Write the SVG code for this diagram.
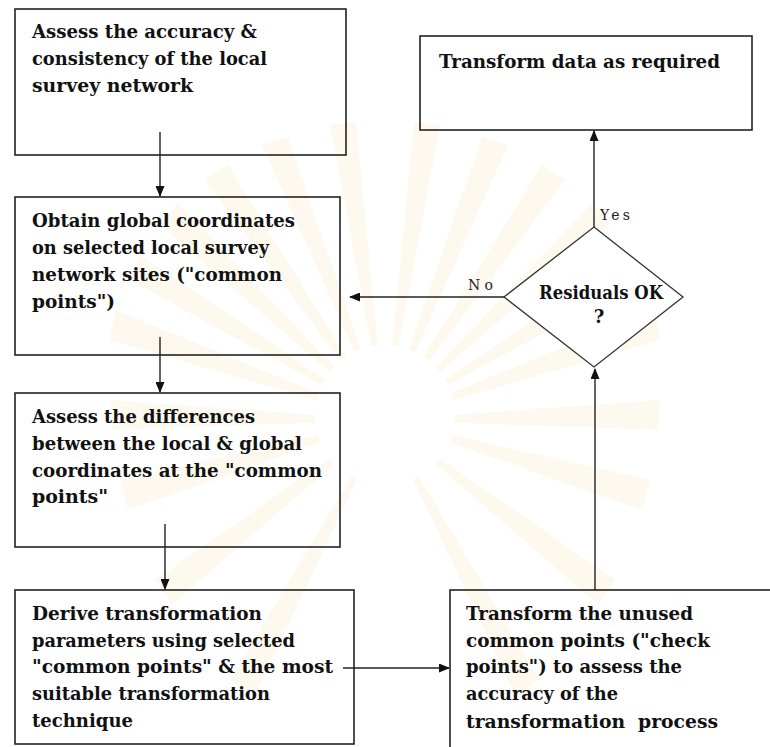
<svg xmlns="http://www.w3.org/2000/svg" width="770" height="747" viewBox="0 0 770 747">
<style>
.box{fill:none;stroke:#222;stroke-width:1.6}
.t{font-family:"DejaVu Serif","Liberation Serif",serif;font-weight:bold;font-size:18px;fill:#111}
.lbl{font-family:"DejaVu Serif","Liberation Serif",serif;font-size:14px;fill:#222}
.c{fill:none;stroke:#222;stroke-width:1.4;marker-end:url(#ah)}
.ray{fill:#f5e4b4;opacity:0.22}
</style>
<defs>
<marker id="ah" markerUnits="userSpaceOnUse" markerWidth="11" markerHeight="9" refX="10" refY="4.5" orient="auto">
<path d="M0,0 L11,4.5 L0,9 z" fill="#111"/>
</marker>
</defs>
<rect width="770" height="747" fill="#fff"/>
<g id="watermark">
<path class="ray" d="M385,420 L110,340 L115,310 Z"/>
<path class="ray" d="M385,420 L130,280 L140,255 Z"/>
<path class="ray" d="M385,420 L160,225 L178,203 Z"/>
<path class="ray" d="M385,420 L205,180 L228,165 Z"/>
<path class="ray" d="M385,420 L262,145 L288,137 Z"/>
<path class="ray" d="M385,420 L330,125 L356,122 Z"/>
<path class="ray" d="M385,420 L414,122 L440,125 Z"/>
<path class="ray" d="M385,420 L482,137 L508,145 Z"/>
<path class="ray" d="M385,420 L542,165 L565,180 Z"/>
<path class="ray" d="M385,420 L592,203 L610,225 Z"/>
<path class="ray" d="M385,420 L630,255 L640,280 Z"/>
<path class="ray" d="M385,420 L655,310 L660,340 Z"/>
<path class="ray" d="M385,420 L660,400 L658,430 Z"/>
<path class="ray" d="M385,420 L650,480 L642,510 Z"/>
<path class="ray" d="M385,420 L615,580 L598,605 Z"/>
<path class="ray" d="M385,420 L110,400 L112,430 Z"/>
<path class="ray" d="M385,420 L120,480 L128,510 Z"/>
<path class="ray" d="M385,420 L155,580 L172,605 Z"/>
<path class="ray" d="M385,420 L230,680 L255,695 Z"/>
<path class="ray" d="M385,420 L515,695 L540,680 Z"/>
<circle cx="385" cy="415" r="70" fill="#fff"/>
</g>
<g id="connectors">
<path class="c" d="M160,132 V196"/>
<path class="c" d="M160,337 V392"/>
<path class="c" d="M165,524 V589"/>
<path class="c" d="M343,668 H449"/>
<path class="c" d="M595,590 V369"/>
<path class="c" d="M594,227 V131"/>
<path class="c" d="M504,297 H350"/>
<text class="lbl" x="600" y="220" textLength="30" lengthAdjust="spacing">Yes</text>
<text class="lbl" x="468" y="290" textLength="25" lengthAdjust="spacing">No</text>
</g>
<g id="n1">
<rect class="box" x="15" y="9" width="331" height="146"/>
<text class="t" x="32" y="38" textLength="225" lengthAdjust="spacingAndGlyphs">Assess the accuracy &amp;</text>
<text class="t" x="32" y="65" textLength="235" lengthAdjust="spacingAndGlyphs">consistency of the local</text>
<text class="t" x="32" y="92" textLength="161" lengthAdjust="spacingAndGlyphs">survey network</text>
</g>
<g id="n2">
<rect class="box" x="15" y="197" width="325" height="158"/>
<text class="t" x="32" y="227" textLength="263" lengthAdjust="spacingAndGlyphs">Obtain global coordinates</text>
<text class="t" x="32" y="254" textLength="237" lengthAdjust="spacingAndGlyphs">on selected local survey</text>
<text class="t" x="32" y="281" textLength="250" lengthAdjust="spacingAndGlyphs">network sites ("common</text>
<text class="t" x="32" y="308" textLength="83" lengthAdjust="spacingAndGlyphs">points")</text>
</g>
<g id="n3">
<rect class="box" x="15" y="393" width="325" height="154"/>
<text class="t" x="32" y="423" textLength="223" lengthAdjust="spacingAndGlyphs">Assess the differences</text>
<text class="t" x="32" y="450" textLength="270" lengthAdjust="spacingAndGlyphs">between the local &amp; global</text>
<text class="t" x="32" y="477" textLength="290" lengthAdjust="spacingAndGlyphs">coordinates at the "common</text>
<text class="t" x="32" y="503" textLength="76" lengthAdjust="spacingAndGlyphs">points"</text>
</g>
<g id="n4">
<rect class="box" x="15" y="590" width="339" height="154"/>
<text class="t" x="32" y="620" textLength="230" lengthAdjust="spacingAndGlyphs">Derive transformation</text>
<text class="t" x="32" y="647" textLength="263" lengthAdjust="spacingAndGlyphs">parameters using selected</text>
<text class="t" x="32" y="673" textLength="301" lengthAdjust="spacingAndGlyphs">"common points" &amp; the most</text>
<text class="t" x="32" y="700" textLength="238" lengthAdjust="spacingAndGlyphs">suitable transformation</text>
<text class="t" x="32" y="727" textLength="101" lengthAdjust="spacingAndGlyphs">technique</text>
</g>
<g id="n5">
<rect class="box" x="450" y="590" width="330" height="170"/>
<text class="t" x="466" y="620" textLength="227" lengthAdjust="spacingAndGlyphs">Transform the unused</text>
<text class="t" x="466" y="647" textLength="244" lengthAdjust="spacingAndGlyphs">common points ("check</text>
<text class="t" x="466" y="673" textLength="216" lengthAdjust="spacingAndGlyphs">points") to assess the</text>
<text class="t" x="466" y="700" textLength="152" lengthAdjust="spacingAndGlyphs">accuracy of the</text>
<text class="t" x="466" y="728" textLength="252" lengthAdjust="spacingAndGlyphs" xml:space="preserve">transformation  process</text>
</g>
<g id="n6">
<path d="M594,227 L683,297 L594,367 L504,297 Z" fill="#fff" stroke="#333" stroke-width="1.3"/>
<text class="t" x="539" y="299" font-size="15" textLength="124" lengthAdjust="spacingAndGlyphs">Residuals OK</text>
<text class="t" x="599" y="323" font-size="15" text-anchor="middle">?</text>
</g>
<g id="n7">
<rect class="box" x="420" y="36" width="332" height="94"/>
<text class="t" x="439" y="68" textLength="281" lengthAdjust="spacingAndGlyphs">Transform data as required</text>
</g>
</svg>
